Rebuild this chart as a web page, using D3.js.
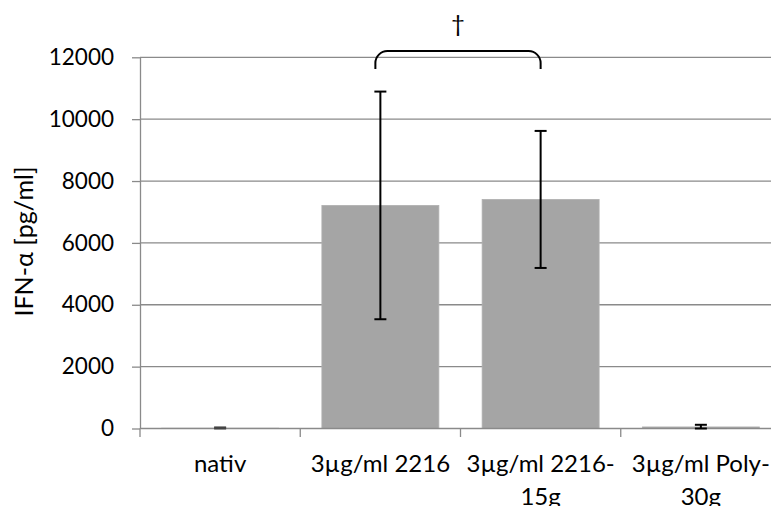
<!DOCTYPE html>
<html>
<head>
<meta charset="utf-8">
<script src="https://cdn.jsdelivr.net/npm/d3@7"></script>
<style>
  html, body { margin: 0; padding: 0; background: #fff; }
  svg { display: block; }
  text { font-family: Lato, "Open Sans", sans-serif; fill: #000; }
</style>
</head>
<body>
<svg id="chart" width="771" height="506"></svg>
<script>
// ---- data ----
const categories = ["nativ", "3µg/ml 2216", "3µg/ml 2216-15g", "3µg/ml Poly-30g"];
const means = [10, 7212, 7405, 50];
const errors = [25, 3680, 2215, 70];
const yTicks = [0, 2000, 4000, 6000, 8000, 10000, 12000];
const yTitle = "IFN-α [pg/ml]";
const sigPair = [1, 2];
const sigMark = "†";

(function () {
// ---- layout ----
const svg = d3.select("#chart");
const W = 771, H = 506;
const pLeft = 140, pRight = 781, pTop = 57.3, pBottom = 428.5;

const x = d3.scaleBand().domain(categories).range([pLeft, pRight]).padding(0);
const y = d3.scaleLinear().domain([0, 12000]).range([pBottom, pTop]);

const gridColor = "#8a8a8a";
const fsTick = 22.5, fsCat = 24, fsTitle = 25;

// gridlines
svg.append("g").selectAll("line").data(yTicks.filter(d => d > 0)).join("line")
  .attr("x1", pLeft).attr("x2", W)
  .attr("y1", d => y(d)).attr("y2", d => y(d))
  .attr("stroke", gridColor).attr("stroke-width", 1.3);

// bars
const bw = x.bandwidth() * 0.73;
const cx = d => x(d) + x.bandwidth() / 2;
svg.append("g").selectAll("rect").data(categories).join("rect")
  .attr("x", (d) => cx(d) - bw / 2)
  .attr("width", bw)
  .attr("y", (d, i) => y(means[i]))
  .attr("height", (d, i) => y(0) - y(means[i]))
  .attr("fill", "#a5a5a5")
  .attr("stroke", "#b0b0b0").attr("stroke-width", 0.8);

// y axis
const yAxis = d3.axisLeft(y).tickValues(yTicks).tickFormat(d3.format("d"))
  .tickSize(8).tickSizeOuter(0).tickPadding(18);
const gy = svg.append("g").attr("transform", `translate(${pLeft},0)`).call(yAxis);
gy.select(".domain").attr("stroke", gridColor).attr("stroke-width", 1.3);
gy.selectAll(".tick line").attr("stroke", gridColor).attr("stroke-width", 1.3);
gy.selectAll(".tick text").attr("font-size", fsTick).attr("font-family", "Lato, sans-serif").attr("fill", "#000");

// x axis baseline
svg.append("line").attr("x1", pLeft).attr("x2", W).attr("y1", y(0)).attr("y2", y(0))
  .attr("stroke", gridColor).attr("stroke-width", 1.3);
// category boundary ticks
const bounds = categories.map(c => x(c)).concat([x(categories[categories.length - 1]) + x.bandwidth()]);
svg.append("g").selectAll("line").data(bounds).join("line")
  .attr("x1", d => d).attr("x2", d => d)
  .attr("y1", y(0)).attr("y2", y(0) + 8.5)
  .attr("stroke", gridColor).attr("stroke-width", 1.3);

// category labels (wrap after hyphen)
const lab = svg.append("g");
categories.forEach((c, i) => {
  const idx = c.indexOf("-");
  const lines = idx >= 0 ? [c.slice(0, idx + 1), c.slice(idx + 1)] : [c];
  const t = lab.append("text").attr("text-anchor", "middle").attr("font-size", fsCat)
    .attr("x", cx(c)).attr("y", 472);
  lines.forEach((ln, k) => {
    t.append("tspan").attr("x", cx(c)).attr("dy", k === 0 ? 0 : 33).text(ln);
  });
});

// error bars
const eg = svg.append("g");
categories.forEach((c, i) => {
  const xc = cx(c);
  const lo = Math.max(0, means[i] - errors[i]);
  const hi = means[i] + errors[i];
  eg.append("line").attr("x1", xc).attr("x2", xc).attr("y1", y(lo)).attr("y2", y(hi))
    .attr("stroke", "#000").attr("stroke-width", 2);
  [lo, hi].forEach(v => {
    eg.append("line").attr("x1", xc - 6).attr("x2", xc + 6).attr("y1", y(v)).attr("y2", y(v))
      .attr("stroke", i === 0 ? "#444" : "#000").attr("stroke-width", 2);
  });
});

// y title
svg.append("text")
  .attr("transform", `translate(33,${(170 + 313) / 2}) rotate(-90)`)
  .attr("text-anchor", "middle").attr("font-size", fsTitle).text(yTitle);

// significance bracket
const bx1 = cx(categories[sigPair[0]]) - 5, bx2 = cx(categories[sigPair[1]]);
const byTop = y(12200), byEnd = y(11620), r = 12;
svg.append("path")
  .attr("d", `M${bx1},${byEnd} L${bx1},${byTop + r} A${r},${r} 0 0 1 ${bx1 + r},${byTop} L${bx2 - r},${byTop} A${r},${r} 0 0 1 ${bx2},${byTop + r} L${bx2},${byEnd}`)
  .attr("fill", "none").attr("stroke", "#000").attr("stroke-width", 2);
svg.append("text").attr("x", (bx1 + bx2) / 2).attr("y", 32).attr("text-anchor", "middle")
  .attr("font-size", fsCat).text(sigMark);
})();
</script>
</body>
</html>
